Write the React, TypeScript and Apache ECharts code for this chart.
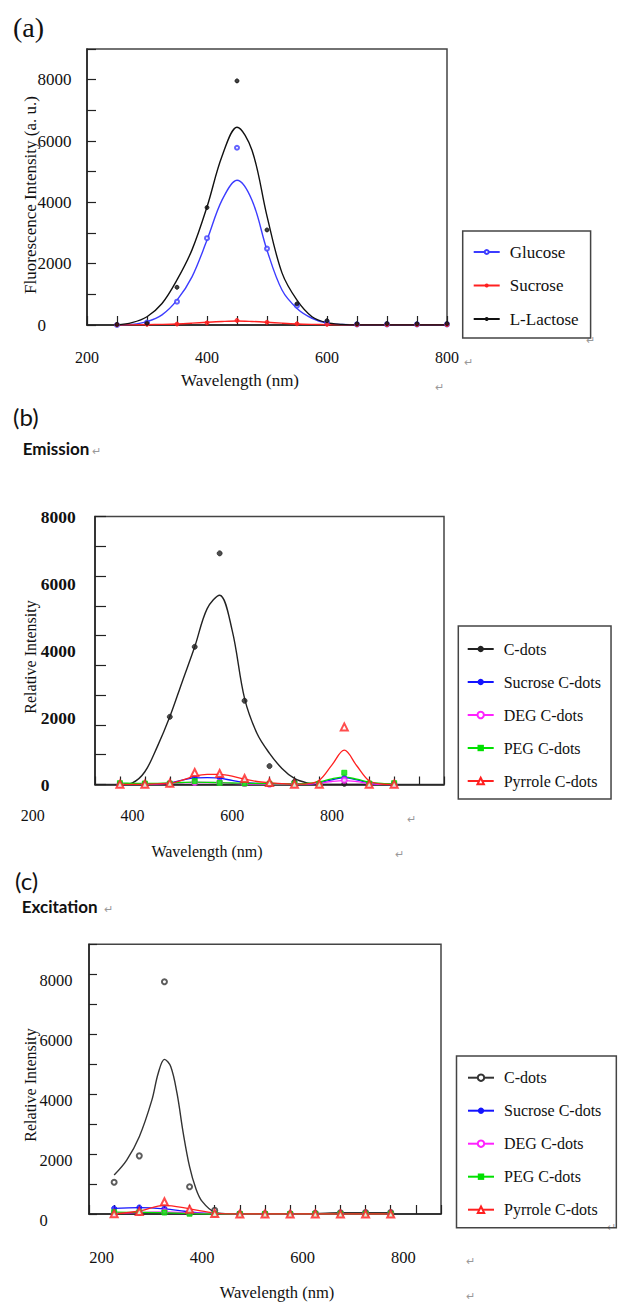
import React, { useEffect, useRef } from 'react';
import * as echarts from 'echarts';

const SERIF = 'Liberation Serif';
const SANS = 'Lato';

// ---------------- Panel (a) ----------------
const aPointX = [250, 300, 350, 400, 450, 500, 550, 600, 650, 700, 750, 800];
const aGlucose = [0, 80, 760, 2830, 5780, 2490, 630, 80, 20, 20, 20, 20];
const aSucrose = [10, 20, 30, 70, 150, 90, 40, 20, 10, 10, 10, 10];
const aLactose = [20, 60, 1230, 3830, 7960, 3100, 690, 140, 40, 50, 40, 50];
const aFitX = [250, 275, 300, 325, 350, 375, 400, 425, 450, 475, 500, 525, 550, 575, 600, 625, 650, 675, 700, 725, 750, 775, 800];
const aGlucoseFit = [0, 20, 110, 330, 810, 1570, 2770, 4070, 4720, 4070, 2440, 1140, 540, 220, 60, 15, 0, 0, 0, 0, 0, 0, 0];
const aSucroseFit = [0, 5, 10, 20, 35, 60, 90, 115, 130, 115, 90, 60, 35, 20, 10, 5, 5, 5, 5, 5, 5, 5, 5];
const aLactoseFit = [0, 76, 270, 700, 1470, 2450, 3850, 5500, 6450, 5700, 3550, 1700, 810, 270, 76, 20, 0, 0, 0, 0, 0, 0, 0];
const aXTicks = [200, 400, 600, 800];

// ---------------- Panel (b) Emission ----------------
const bPointX = [375, 425, 475, 525, 575, 625, 675, 725, 775, 825, 875, 925];
const bCdots = [30, 30, 2020, 4110, 6900, 2500, 550, 80, 20, 20, 20, 20];
const bSucrose = [10, 10, 30, 200, 200, 60, 20, 10, 10, 200, 10, 10];
const bDEG = [10, 10, 20, 60, 60, 30, 10, 10, 10, 130, 10, 10];
const bPEG = [40, 30, 30, 100, 50, 30, 20, 20, 20, 350, 30, 40];
const bPyrrole = [10, 10, 40, 360, 330, 180, 60, 10, 10, 1720, 10, 10];
const bFitX = [375, 400, 425, 450, 475, 500, 525, 550, 575, 600, 625, 650, 675, 700, 725, 750, 775, 800, 825, 850, 875, 900, 925];
const bCdotsFit = [0, 50, 380, 1130, 2020, 3070, 4110, 5250, 5650, 4610, 2570, 1520, 930, 480, 180, 50, 10, 0, 0, 0, 0, 0, 0];
const bSucroseFit = [0, 0, 5, 15, 50, 130, 195, 205, 190, 120, 60, 30, 15, 5, 0, 10, 50, 140, 200, 140, 40, 5, 0];
const bDEGFit = [5, 5, 10, 20, 35, 50, 60, 60, 50, 35, 20, 10, 5, 5, 5, 10, 40, 90, 115, 85, 30, 5, 0];
const bPEGFit = [40, 35, 30, 35, 45, 60, 70, 65, 55, 45, 35, 30, 25, 20, 20, 30, 80, 170, 220, 160, 70, 30, 20];
const bPyrroleFit = [0, 0, 10, 20, 40, 130, 250, 305, 300, 250, 160, 90, 55, 25, 10, 20, 130, 580, 1025, 560, 110, 15, 0];
const bXTicks = [200, 400, 600, 800];

// ---------------- Panel (c) Excitation ----------------
const cPointX = [225, 275, 325, 375, 425, 475, 525, 575, 625, 675, 725, 775];
const cCdots = [1060, 1940, 7750, 910, 120, 10, 10, 10, 20, 40, 50, 50];
const cSucrose = [190, 220, 190, 60, 10, 0, 0, 0, 0, 0, 0, 0];
const cDEG = [20, 60, 80, 40, 10, 0, 0, 0, 0, 0, 0, 0];
const cPEG = [60, 60, 50, 10, 0, 0, 0, 0, 0, 0, 0, 0];
const cPyrrole = [10, 80, 410, 160, 20, 0, 0, 0, 0, 0, 0, 0];
const cCdotsFitX = [225, 250, 275, 300, 312.5, 325, 337.5, 350, 362.5, 375, 387.5, 400, 425, 450, 475, 525, 575, 625, 675, 725, 775];
const cCdotsFit = [1300, 1800, 2580, 3800, 4690, 5160, 4920, 4030, 2690, 1580, 850, 420, 60, 10, 5, 5, 10, 20, 40, 40, 40];
const cSucroseFit = [190, 210, 170, 70, 10, 0, 0, 0, 0, 0, 0, 0];
const cDEGFit = [20, 50, 70, 40, 10, 0, 0, 0, 0, 0, 0, 0];
const cPEGFit = [60, 55, 45, 15, 0, 0, 0, 0, 0, 0, 0, 0];
const cPyrroleFit = [0, 100, 290, 170, 30, 0, 0, 0, 0, 0, 0, 0];
const cXTicks = [200, 400, 600, 800];

const zip = (xs: number[], ys: number[]) => xs.map((x, i) => [x, ys[i]]);
const strip = (name: string) => name.slice(name.indexOf(':') + 1);

function pair(
  id: string, color: string, symbol: string, size: number,
  fitX: number[], fitY: number[], ptX: number[], ptY: number[],
  xi: number, yi: number, lw = 1.3
) {
  return [
    {
      type: 'line', name: id, xAxisIndex: xi, yAxisIndex: yi,
      data: zip(fitX, fitY), smooth: 0.35, showSymbol: false,
      symbol, symbolSize: size, silent: true, z: 2,
      lineStyle: { color, width: lw }, itemStyle: { color },
    },
    {
      type: 'scatter', name: id + ' data', xAxisIndex: xi, yAxisIndex: yi,
      data: zip(ptX, ptY), symbol, symbolSize: size, silent: true, z: 3,
      itemStyle: { color, borderColor: color, borderWidth: 1 },
    },
  ];
}

const AX = '#222';
const tick = (len: number) => ({ show: true, inside: true, length: len, lineStyle: { color: AX, width: 1.2 } });
const axLine = { show: true, onZero: false, lineStyle: { color: AX, width: 1.5 } };
const noSplit = { show: false };
const evenK = (v: number) => (v % 2000 === 0 && v < 9000 ? String(v) : '');

function T(text: string, x: number, y: number, size: number, o: any = {}) {
  return {
    type: 'text', x, y, rotation: o.rot || 0, silent: true,
    style: {
      text, fill: o.color || '#111', fontSize: size,
      fontFamily: o.family || SERIF, fontWeight: o.weight || 'normal',
      textAlign: o.align || 'center', align: o.align || 'center',
      textVerticalAlign: 'middle', verticalAlign: 'middle',
    },
  };
}
const RET = (x: number, y: number) => T('↵', x, y, 11, { color: '#999', family: SANS });

function buildOption() {
  const legendBase = {
    orient: 'vertical', selectedMode: false, borderColor: '#444', borderWidth: 1.5,
    itemWidth: 26, formatter: strip,
  };
  return {
    animation: false,
    backgroundColor: '#fff',
    textStyle: { fontFamily: SERIF },
    grid: [
      { left: 87, top: 49, width: 360, height: 276, show: true, borderColor: '#444', borderWidth: 1.5 },
      { left: 95, top: 516.5, width: 349, height: 268, show: true, borderColor: '#444', borderWidth: 1.5 },
      { left: 32.7, top: 783.5, width: 299.2, height: 1, show: false },
      { left: 89, top: 944.3, width: 352, height: 269.7, show: true, borderColor: '#444', borderWidth: 1.5 },
      { left: 101.6, top: 1213, width: 301.7, height: 1, show: false },
    ],
    xAxis: [
      {
        gridIndex: 0, type: 'value', min: 200, max: 800, interval: 50, axisLine: axLine, axisTick: tick(9), splitLine: noSplit,
        axisLabel: { margin: 24, fontFamily: SERIF, fontSize: 16, color: '#111', formatter: (v: number) => (aXTicks.includes(v) ? String(v) : '') },
      },
      { gridIndex: 1, type: 'value', min: 325, max: 1025, interval: 50, axisLine: axLine, axisTick: tick(8), splitLine: noSplit, axisLabel: { show: false } },
      {
        gridIndex: 2, type: 'value', min: 200, max: 800, interval: 200, axisLine: { show: false }, axisTick: { show: false }, splitLine: noSplit,
        axisLabel: { margin: 22.5, fontFamily: SERIF, fontSize: 16, color: '#111', formatter: (v: number) => (bXTicks.includes(v) ? String(v) : '') },
      },
      { gridIndex: 3, type: 'value', min: 175, max: 875, interval: 50, axisLine: axLine, axisTick: tick(9), splitLine: noSplit, axisLabel: { show: false } },
      {
        gridIndex: 4, type: 'value', min: 200, max: 800, interval: 200, axisLine: { show: false }, axisTick: { show: false }, splitLine: noSplit,
        axisLabel: { margin: 34.7, fontFamily: SERIF, fontSize: 16.5, color: '#111', formatter: (v: number) => (cXTicks.includes(v) ? String(v) : '') },
      },
    ],
    yAxis: [
      {
        gridIndex: 0, type: 'value', min: 0, max: 9000, interval: 1000, axisLine: axLine, axisTick: tick(9), splitLine: noSplit,
        axisLabel: { align: 'left', margin: 49.5, fontFamily: SERIF, fontSize: 17, color: '#111', formatter: evenK },
      },
      {
        gridIndex: 1, position: 'left', type: 'value', min: 0, max: 8000, interval: 2000, axisLine: axLine, axisTick: { show: false }, splitLine: noSplit,
        axisLabel: { align: 'left', margin: 54.3, fontFamily: SERIF, fontWeight: 'bold', fontSize: 17.5, color: '#111', formatter: (v: number) => String(v) },
      },
      { gridIndex: 1, position: 'left', type: 'value', min: 0, max: 9000, interval: 1000, axisLine: { show: false }, axisTick: tick(11), splitLine: noSplit, axisLabel: { show: false } },
      { gridIndex: 2, show: false, type: 'value', min: 0, max: 1 },
      {
        gridIndex: 3, type: 'value', min: 0, max: 9000, interval: 1000, axisLine: axLine, axisTick: tick(8), splitLine: noSplit,
        axisLabel: { align: 'left', verticalAlign: 'top', lineHeight: 13, margin: 49.5, fontFamily: SERIF, fontSize: 16.5, color: '#111', formatter: evenK },
      },
      { gridIndex: 4, show: false, type: 'value', min: 0, max: 1 },
    ],
    legend: [
      {
        ...legendBase, left: 462.7, top: 231, itemHeight: 5, itemGap: 15.5, padding: [12, 12, 10, 10],
        data: ['a:Glucose', 'a:Sucrose', 'a:L-Lactose'],
        textStyle: { fontFamily: SERIF, fontSize: 17, color: '#111', lineHeight: 18, padding: [0, 0, 0, 5] },
      },
      {
        ...legendBase, left: 458.3, top: 626, itemHeight: 8, itemGap: 15, padding: [14, 10, 9, 8.4],
        data: ['b:C-dots', 'b:Sucrose C-dots', 'b:DEG C-dots', 'b:PEG C-dots', 'b:Pyrrole C-dots'],
        textStyle: { fontFamily: SERIF, fontSize: 16, color: '#111', lineHeight: 18, padding: [0, 0, 0, 5] },
      },
      {
        ...legendBase, left: 456.5, top: 1056, itemHeight: 8, itemGap: 15, padding: [12.7, 15, 9, 10.5],
        data: ['c:C-dots', 'c:Sucrose C-dots', 'c:DEG C-dots', 'c:PEG C-dots', 'c:Pyrrole C-dots'],
        textStyle: { fontFamily: SERIF, fontSize: 16, color: '#111', lineHeight: 18, padding: [0, 0, 0, 5] },
      },
    ],
    series: [
      ...pair('a:Glucose', '#3c3cff', 'emptyCircle', 4, aFitX, aGlucoseFit, aPointX, aGlucose, 0, 0, 1.4),
      ...pair('a:Sucrose', '#ff2020', 'circle', 4, aFitX, aSucroseFit, aPointX, aSucrose, 0, 0, 1.4),
      ...pair('a:L-Lactose', '#111111', 'circle', 4, aFitX, aLactoseFit, aPointX, aLactose, 0, 0, 1.4),

      ...pair('b:C-dots', '#222222', 'circle', 5, bFitX, bCdotsFit, bPointX, bCdots, 1, 1, 1.4),
      ...pair('b:Sucrose C-dots', '#1414ff', 'circle', 5, bFitX, bSucroseFit, bPointX, bSucrose, 1, 1),
      ...pair('b:DEG C-dots', '#ff22ff', 'emptyCircle', 5, bFitX, bDEGFit, bPointX, bDEG, 1, 1),
      ...pair('b:PEG C-dots', '#00e000', 'rect', 5, bFitX, bPEGFit, bPointX, bPEG, 1, 1),
      ...pair('b:Pyrrole C-dots', '#ff2020', 'emptyTriangle', 7, bFitX, bPyrroleFit, bPointX, bPyrrole, 1, 1),

      ...pair('c:C-dots', '#333333', 'emptyCircle', 5, cCdotsFitX, cCdotsFit, cPointX, cCdots, 3, 4, 1.4),
      ...pair('c:Sucrose C-dots', '#1414ff', 'circle', 5, cPointX, cSucroseFit, cPointX, cSucrose, 3, 4),
      ...pair('c:DEG C-dots', '#ff22ff', 'emptyCircle', 5, cPointX, cDEGFit, cPointX, cDEG, 3, 4),
      ...pair('c:PEG C-dots', '#00e000', 'rect', 5, cPointX, cPEGFit, cPointX, cPEG, 3, 4),
      ...pair('c:Pyrrole C-dots', '#ff2020', 'emptyTriangle', 7, cPointX, cPyrroleFit, cPointX, cPyrrole, 3, 4),
    ],
    graphic: [
      T('(a)', 13, 27.5, 28, { align: 'left' }),
      T('Fluorescence Intensity (a. u.)', 30, 195, 17, { rot: Math.PI / 2 }),
      T('Wavelength (nm)', 240, 380, 17),
      RET(468, 361), RET(439, 386), RET(590, 339),

      T('(b)', 13, 416.7, 24, { align: 'left', family: SANS }),
      T('Emission', 22.7, 448, 17, { align: 'left', family: SANS, weight: 'bold' }),
      RET(96, 450),
      T('Relative Intensity', 30, 657, 16, { rot: Math.PI / 2 }),
      T('Wavelength (nm)', 207, 851, 16),
      RET(411, 818), RET(399, 853),

      T('(c)', 15, 880, 24, { align: 'left', family: SANS }),
      T('Excitation', 21.7, 906, 17, { align: 'left', family: SANS, weight: 'bold' }),
      RET(108, 908),
      T('Relative Intensity', 30.8, 1085, 16, { rot: Math.PI / 2 }),
      T('Wavelength (nm)', 277, 1292, 16.5),
      RET(470, 1260), RET(470, 1295), RET(611, 1226),
    ],
  };
}

export default function App() {
  const ref = useRef<HTMLDivElement>(null);
  useEffect(() => {
    document.body.style.margin = '0';
    const chart = echarts.init(ref.current as HTMLDivElement, null, { renderer: 'svg', width: 618, height: 1304 });
    chart.setOption(buildOption() as any);
    return () => chart.dispose();
  }, []);
  return <div ref={ref} style={{ width: 618, height: 1304, background: '#fff' }} />;
}
